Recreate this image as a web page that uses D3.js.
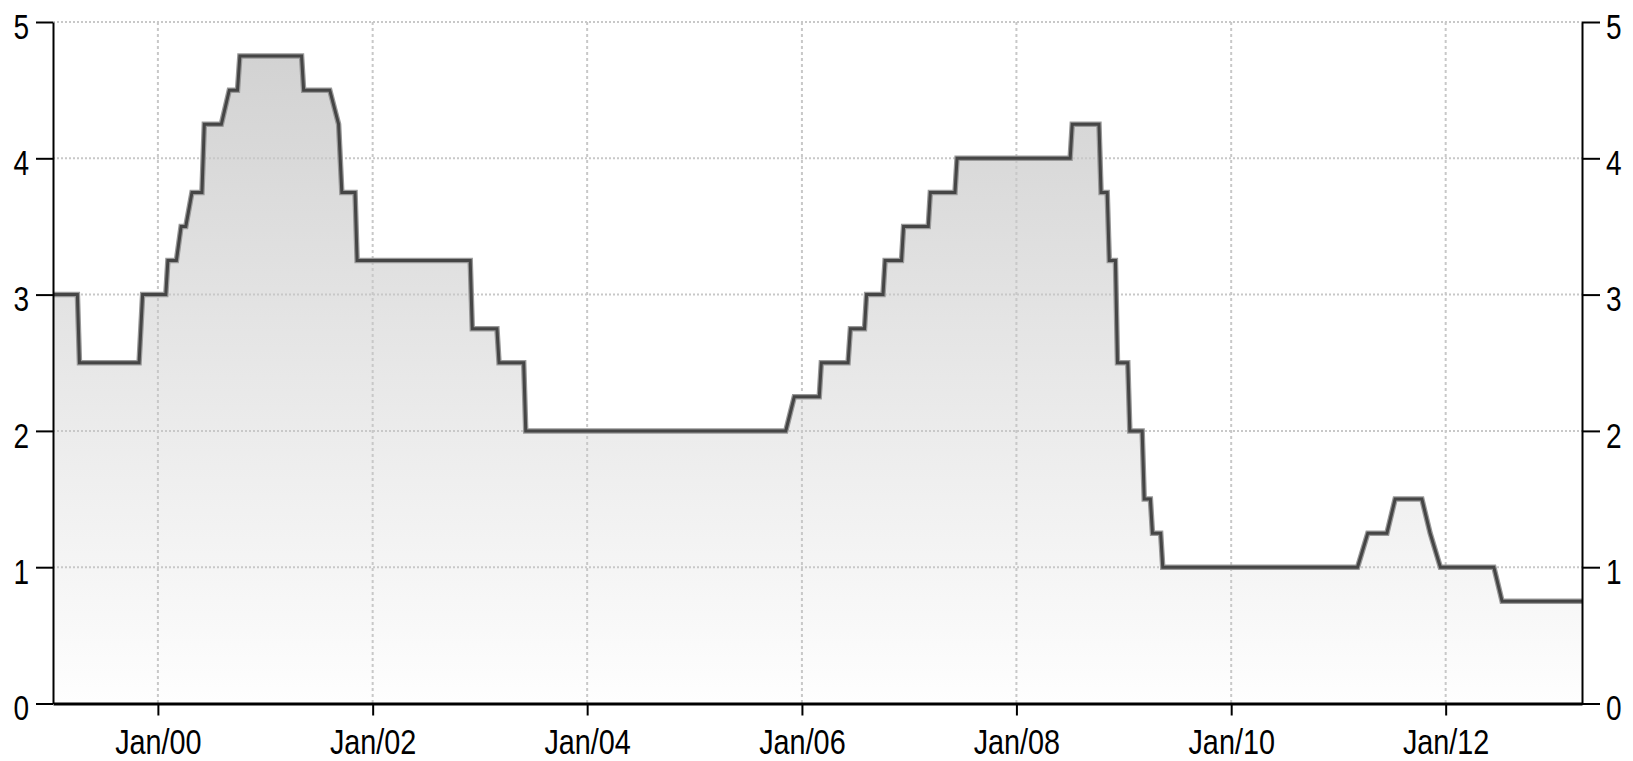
<!DOCTYPE html>
<html>
<head>
<meta charset="utf-8">
<script src="https://cdn.jsdelivr.net/npm/d3@7"></script>
<style>
  body { margin: 0; background: #fff; }
  svg text { font-family: "Liberation Sans", Arial, sans-serif; fill: #000; }
</style>
</head>
<body>
<svg width="1633" height="761"></svg>
<script>
// ECB main refinancing rate, vertices of the drawn line
var dates = [
  '1999-01-09', '1999-04-02', '1999-04-09', '1999-10-29', '1999-11-10',
  '2000-01-28', '2000-02-04', '2000-03-04', '2000-03-20', '2000-04-05',
  '2000-04-26', '2000-05-30', '2000-06-07', '2000-08-04', '2000-08-31',
  '2000-09-28', '2000-10-06', '2001-05-04', '2001-05-11', '2001-08-08',
  '2001-09-07', '2001-09-18', '2001-11-02', '2001-11-09', '2002-11-29',
  '2002-12-06', '2003-02-28', '2003-03-07', '2003-05-30', '2003-06-06',
  '2005-11-07', '2005-12-06', '2006-03-01', '2006-03-08', '2006-06-07',
  '2006-06-15', '2006-08-02', '2006-08-09', '2006-10-04', '2006-10-11',
  '2006-12-06', '2006-12-13', '2007-03-07', '2007-03-14', '2007-06-06',
  '2007-06-13', '2008-07-02', '2008-07-09', '2008-10-08', '2008-10-15',
  '2008-11-05', '2008-11-12', '2008-12-03', '2008-12-10', '2009-01-14',
  '2009-01-21', '2009-03-04', '2009-03-11', '2009-04-01', '2009-04-08',
  '2009-05-06', '2009-05-13', '2011-03-07', '2011-04-11', '2011-06-15',
  '2011-07-13', '2011-10-12', '2011-11-09', '2011-12-14', '2012-06-13',
  '2012-07-11', '2013-04-09'
];
var rates = [
  3.00, 3.00, 2.50, 2.50, 3.00,
  3.00, 3.25, 3.25, 3.50, 3.50,
  3.75, 3.75, 4.25, 4.25, 4.50,
  4.50, 4.75, 4.75, 4.50, 4.50,
  4.25, 3.75, 3.75, 3.25, 3.25,
  2.75, 2.75, 2.50, 2.50, 2.00,
  2.00, 2.25, 2.25, 2.50, 2.50,
  2.75, 2.75, 3.00, 3.00, 3.25,
  3.25, 3.50, 3.50, 3.75, 3.75,
  4.00, 4.00, 4.25, 4.25, 3.75,
  3.75, 3.25, 3.25, 2.50, 2.50,
  2.00, 2.00, 1.50, 1.50, 1.25,
  1.25, 1.00, 1.00, 1.25, 1.25,
  1.50, 1.50, 1.25, 1.00, 1.00,
  0.75, 0.75
];
var yTicks = [0, 1, 2, 3, 4, 5];
var xTickYears = [2000, 2002, 2004, 2006, 2008, 2010, 2012];

var parse = d3.timeParse('%Y-%m-%d');
var data = dates.map(function(d, i){
    return { date: parse(d), rate: rates[i] };
});

var svg = d3.select('svg');
var plotLeft = 53, plotRight = 1582, plotTop = 22, plotBottom = 703.5;
var squeeze = 0.8;   // labels in the picture are narrow

var x = d3.scaleTime()
    .domain(d3.extent(data, function(d){ return d.date; }))
    .range([plotLeft, plotRight]);
var y = d3.scaleLinear().domain([0, 5]).range([plotBottom, plotTop]);

var xTicks = xTickYears.map(function(yr){ return new Date(yr, 0, 1); });

// gradient fill
var grad = svg.append('defs').append('linearGradient')
    .attr('id', 'fillGrad')
    .attr('gradientUnits', 'userSpaceOnUse')
    .attr('x1', 0).attr('x2', 0)
    .attr('y1', plotTop).attr('y2', plotBottom);
grad.append('stop').attr('offset', '0%').attr('stop-color', '#d0d0d0');
grad.append('stop').attr('offset', '100%').attr('stop-color', '#fefefe');

var area = d3.area()
    .x(function(d){ return x(d.date); })
    .y0(plotBottom)
    .y1(function(d){ return y(d.rate); });

svg.append('path')
    .datum(data)
    .attr('d', area)
    .attr('fill', 'url(#fillGrad)');

// grid
svg.selectAll('.hgrid')
    .data(yTicks.filter(function(t){ return t > 0; }))
    .enter()
    .append('line')
    .attr('x1', plotLeft).attr('x2', plotRight)
    .attr('y1', function(d){ return y(d); })
    .attr('y2', function(d){ return y(d); })
    .attr('stroke', '#c8c8c8')
    .attr('stroke-width', 2)
    .attr('stroke-dasharray', '2,2');

svg.selectAll('.vgrid')
    .data(xTicks)
    .enter()
    .append('line')
    .attr('x1', function(d){ return x(d); })
    .attr('x2', function(d){ return x(d); })
    .attr('y1', plotTop).attr('y2', plotBottom)
    .attr('stroke', '#c8c8c8')
    .attr('stroke-width', 2)
    .attr('stroke-dasharray', '3,3');

// line
var line = d3.line()
    .x(function(d){ return x(d.date); })
    .y(function(d){ return y(d.rate); });

svg.append('path')
    .datum(data)
    .attr('d', line)
    .attr('fill', 'none')
    .attr('stroke', '#999')
    .attr('stroke-width', 5.5);

svg.append('path')
    .datum(data)
    .attr('d', line)
    .attr('fill', 'none')
    .attr('stroke', '#454545')
    .attr('stroke-width', 3);

// axes
var yLeft = d3.axisLeft(y).tickValues(yTicks).tickFormat(d3.format('d'))
    .tickSize(17).tickSizeOuter(0).tickPadding(7);
var yRight = d3.axisRight(y).tickValues(yTicks).tickFormat(d3.format('d'))
    .tickSize(18).tickSizeOuter(0).tickPadding(6);
var xAxis = d3.axisBottom(x).tickValues(xTicks).tickFormat(d3.timeFormat('Jan/%y'))
    .tickSize(12).tickSizeOuter(0).tickPadding(13);

function styleAxis(g, fontSize){
    g.selectAll('path, line').attr('stroke', '#000').attr('stroke-width', 2);
    g.selectAll('text')
        .style('font-size', fontSize + 'px')
        .attr('fill', '#000')
        .attr('x', function(){ return +d3.select(this).attr('x') / squeeze; })
        .attr('transform', 'scale(' + squeeze + ',1)');
}

var gl = svg.append('g').attr('transform', 'translate(' + plotLeft + ',0)').call(yLeft);
styleAxis(gl, 35);
gl.selectAll('text').attr('dy', '0.46em');

var gr = svg.append('g').attr('transform', 'translate(' + plotRight + ',0)').call(yRight);
styleAxis(gr, 35);
gr.selectAll('text').attr('dy', '0.46em');

var gx = svg.append('g').attr('transform', 'translate(0,' + plotBottom + ')').call(xAxis);
styleAxis(gx, 36);
gx.select('.domain').attr('stroke-width', 3);
</script>
</body>
</html>
